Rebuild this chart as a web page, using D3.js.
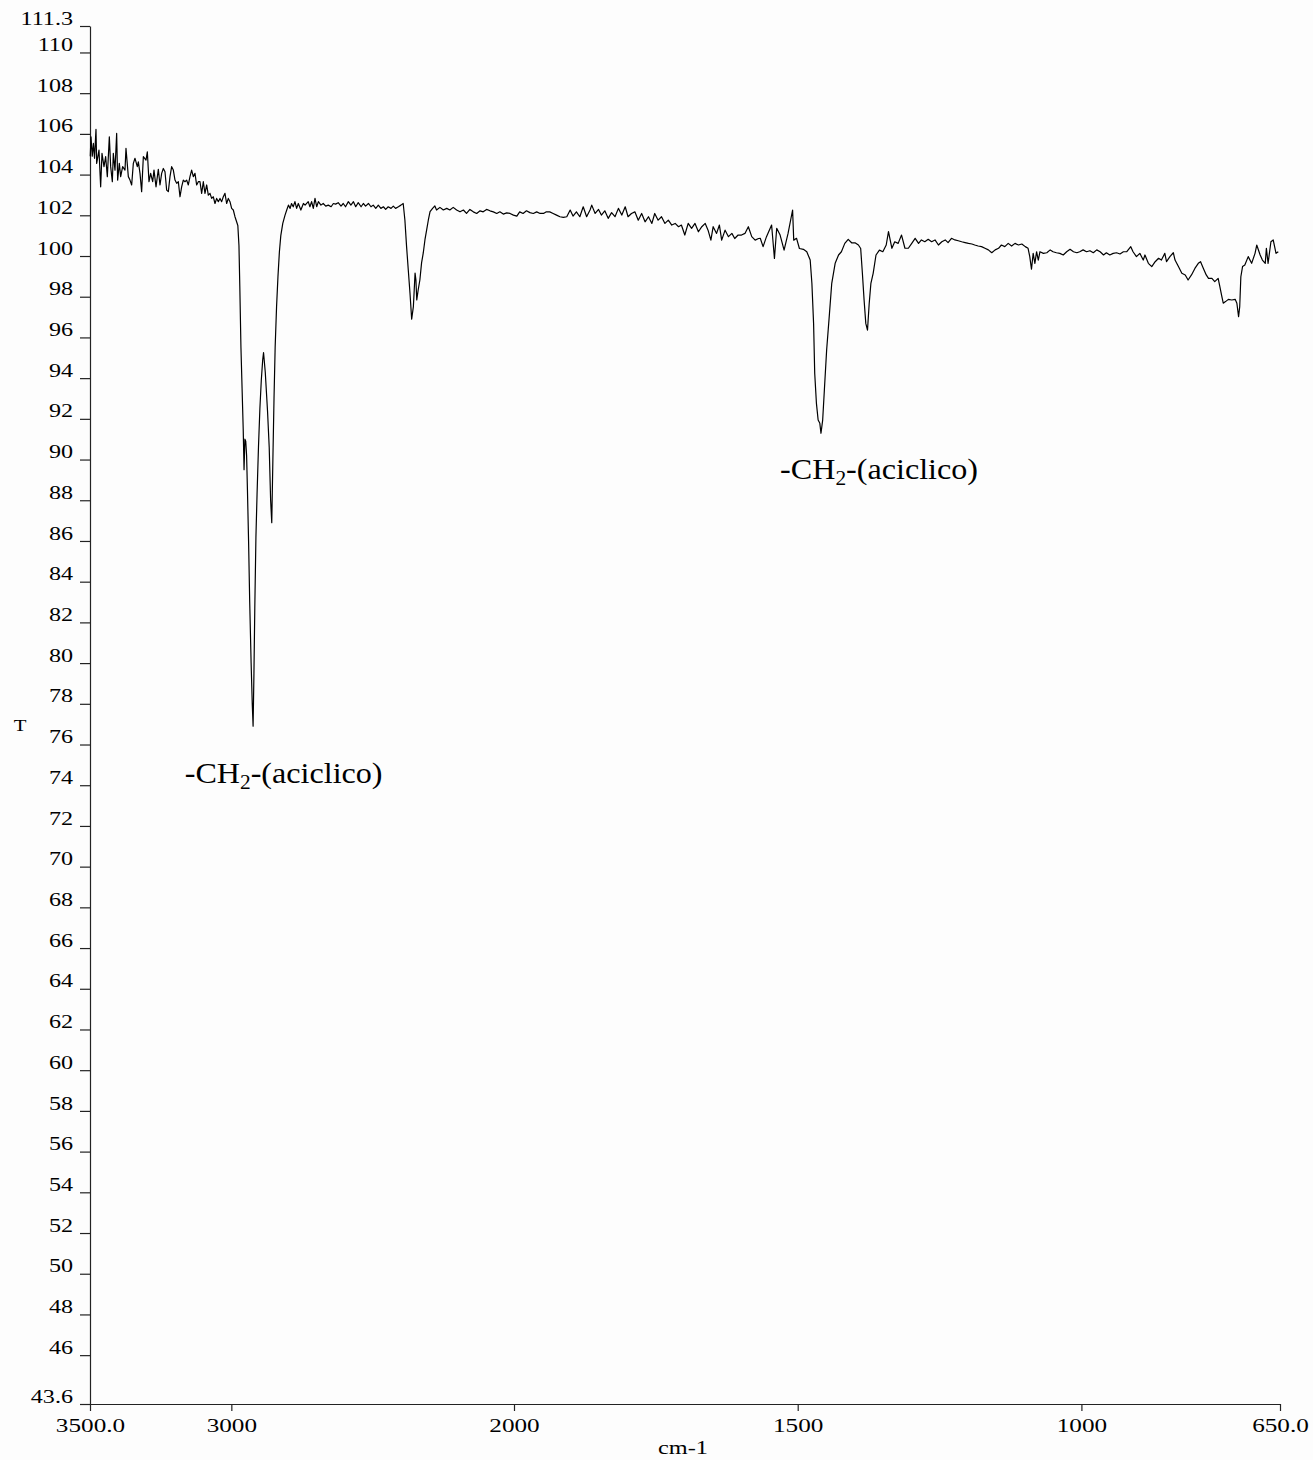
<!DOCTYPE html>
<html>
<head>
<meta charset="utf-8">
<script src="https://cdn.jsdelivr.net/npm/d3@7"></script>
<style>
    body { margin: 0; background: #fdfdfd; }
    svg { display: block; }
    text { font-family: "Liberation Serif", "Times New Roman", serif; fill: #000; }
</style>
</head>
<body>
<svg id="chart" width="1313" height="1460"></svg>
<script>
// spectrum (cm-1 / %T)
const wavenumber = [
    3499, 3496.5, 3492, 3488, 3484, 3478.8, 3476.4, 3468.2, 3462.3, 3457.6, 3450.5, 3444.6, 3438.7, 3431.6, 3426.9, 3421,
    3417.5, 3411.6, 3405.7, 3402.2, 3396.3, 3391.5, 3384.5, 3376.2, 3372.7, 3364.4, 3358.5, 3352.6, 3346.7, 3340.8, 3332.6,
    3329, 3323.1, 3317.3, 3311.3, 3301.9, 3297.2, 3291.3, 3285.4, 3278.3, 3273.6, 3266.5, 3258.3, 3252.4, 3246.5, 3240.6,
    3234.7, 3228.8, 3222.9, 3217, 3211.1, 3205.2, 3199.3, 3193.4, 3187.5, 3181.6, 3175.8, 3169.9, 3164, 3158, 3152.2, 3146.3,
    3140.4, 3134.5, 3128.6, 3122.7, 3116.8, 3110.9, 3105, 3099.1, 3093.2, 3087.3, 3081.4, 3075.5, 3069.6, 3063.7, 3057.8,
    3051.9, 3046, 3040.1, 3034.2, 3028.4, 3022.5, 3016.6, 3010.7, 3004.8, 2998.9, 2993, 2987.1,
    2977, 2973, 2970, 2966, 2962, 2958, 2955, 2952, 2949, 2946, 2943, 2939, 2935, 2930, 2926, 2923, 2920, 2917, 2913, 2909,
    2904, 2899, 2894, 2889, 2886, 2880, 2872, 2866, 2861, 2857, 2853, 2849, 2845, 2840, 2835, 2830, 2825, 2818,
    2810, 2804, 2798, 2792, 2787, 2781, 2775, 2769, 2763, 2754, 2745, 2739, 2728, 2722, 2716, 2710, 2704, 2698, 2692, 2683,
    2675, 2666, 2657, 2647, 2639, 2631, 2622, 2612, 2604, 2596, 2586, 2577, 2568, 2560, 2551, 2541, 2533, 2525, 2515, 2506,
    2498, 2489, 2480, 2471, 2462, 2454, 2445, 2435, 2427, 2419, 2409, 2400, 2392,
    2386, 2380, 2374, 2368, 2362, 2356, 2353, 2350, 2347, 2344, 2339, 2333, 2327, 2321, 2315, 2309, 2303, 2297, 2288, 2280,
    2274, 2262, 2250, 2238, 2227, 2215, 2203, 2191, 2179, 2168, 2156, 2144, 2132, 2120, 2109, 2097, 2085, 2073, 2061, 2050,
    2038, 2026, 2014, 2002, 1995, 1990, 1984, 1978, 1972, 1966, 1960, 1954, 1948, 1943, 1937, 1931, 1925, 1919, 1913, 1907,
    1901, 1896, 1890, 1884, 1878, 1872, 1866, 1863, 1857, 1851, 1846, 1840, 1834, 1828, 1822, 1816, 1810, 1804, 1799, 1793,
    1787, 1781, 1775, 1769, 1763, 1757, 1752, 1746, 1740, 1734, 1728, 1722, 1716, 1710, 1705, 1699, 1693, 1687, 1681, 1675,
    1669, 1663, 1658, 1653, 1649, 1643, 1638, 1634, 1628, 1622, 1616, 1611, 1605, 1599, 1593, 1587, 1581, 1575, 1569,
    1566, 1561, 1555, 1546, 1541, 1537, 1531, 1524, 1517, 1509, 1507, 1502, 1497, 1490, 1484, 1478, 1475, 1472, 1470, 1467,
    1464, 1461, 1459, 1456, 1453, 1449, 1444, 1440, 1434, 1428, 1423, 1417, 1411, 1405, 1399, 1393, 1389, 1386, 1383, 1380,
    1377, 1374, 1371, 1367, 1362, 1356, 1350, 1344, 1340,
    1334, 1329, 1323, 1317, 1311, 1305, 1299, 1293, 1287, 1282, 1276, 1270, 1264, 1258, 1252, 1246, 1240, 1235, 1229, 1223,
    1217, 1211, 1205, 1199, 1193, 1188, 1182, 1176, 1170, 1164, 1158, 1152, 1146, 1141, 1135, 1129, 1123, 1117, 1111, 1105,
    1099, 1094, 1091, 1088, 1085, 1082, 1079, 1076, 1073, 1067, 1061, 1055, 1050, 1044, 1038, 1032, 1026, 1020, 1014, 1008,
    1003, 997, 991, 985, 979, 973, 967, 961, 956, 950, 944, 938, 932, 926, 920, 913, 909, 903, 897, 891,
    888, 882, 876, 870, 864, 859, 853, 850, 844, 838, 835, 829, 823, 817, 812, 806, 800, 794, 790, 785,
    780, 776, 770, 765, 759, 756, 753, 750, 746, 741, 735, 729, 726, 723, 721, 719, 716, 712, 706, 700,
    694, 691, 685, 681, 676, 674, 671, 666, 662, 657, 653
];

const transmittance = [
    104.9, 105.86, 104.9, 105.53, 104.8, 106.22, 104.55, 105.2, 103.4, 105.04, 104.39, 104.88, 103.9, 105.86, 104.39, 103.65,
    105.04, 104.22, 106.02, 103.73, 104.55, 103.9, 104.39, 104.22, 105.29, 103.9, 103.73, 103.49, 104.55, 104.8, 104.39,
    104.63, 104.06, 103.16, 104.88, 104.71, 105.12, 103.65, 104.06, 103.65, 104.22, 103.4, 104.26, 103.49, 104.06, 104.3,
    104.14, 103.24, 103.16, 103.9, 104.39, 104.22, 103.73, 103.57, 103.65, 102.91, 103.4, 103.73, 103.65, 103.73, 103.49, 103.9,
    104.22, 103.9, 104.06, 103.49, 103.65, 103.65, 103.08, 103.65, 103.08, 103.49, 102.99, 103.08, 102.83, 102.91, 102.58,
    102.83, 102.67, 102.83, 102.67, 102.91, 103.08, 102.58, 102.83, 102.67, 102.34, 102.26, 101.93,
    101.5, 100.5, 98.5, 95.5, 93.5, 91.5, 89.5, 91.0, 90.9, 90.2, 88.5, 86.0, 83.0, 80.0, 78.0, 76.9, 79.5, 82.7, 86.2, 88.3,
    90.6, 92.5, 93.9, 94.9, 95.25, 94.3, 92.4, 90.6, 88.0, 86.9, 90.0, 93.0, 95.5, 97.5, 99.0, 100.2, 101.0, 101.6,
    102.01, 102.26, 102.5, 102.34, 102.58, 102.42, 102.67, 102.34, 102.58, 102.26, 102.58, 102.5, 102.67, 102.42, 102.67, 102.34, 102.83, 102.42, 102.67, 102.5,
    102.58, 102.45, 102.5, 102.42, 102.58, 102.55, 102.62, 102.45, 102.58, 102.42, 102.67, 102.5, 102.67, 102.42, 102.62, 102.42, 102.58, 102.45, 102.58, 102.42,
    102.5, 102.34, 102.5, 102.34, 102.42, 102.29, 102.42, 102.34, 102.45, 102.34, 102.42, 102.5, 102.58,
    101.77, 100.46, 99.31, 98.18, 96.9, 97.51, 98.33, 99.16, 98.82, 97.84, 98.33, 98.82, 99.66, 100.15, 100.8, 101.28, 101.77, 102.18, 102.34, 102.46,
    102.26, 102.39, 102.26, 102.34, 102.26, 102.39, 102.26, 102.17, 102.26, 102.09, 102.29, 102.17, 102.09, 102.22, 102.17, 102.29, 102.22, 102.17, 102.09, 102.17,
    102.06, 102.12, 102.09, 102.01, 101.96, 102.17, 102.09, 102.22, 102.13, 102.09, 102.17, 102.09, 102.09, 102.17, 102.17, 102.09, 102.01, 101.93, 101.9, 101.93,
    102.26, 101.96, 102.17, 101.93, 102.42, 101.93, 102.26, 102.5, 102.09, 102.29, 102.01, 102.22, 101.85, 102.13, 101.93, 102.34, 102.01, 102.42, 101.93, 102.09,
    102.17, 101.76, 102.09, 101.68, 101.93, 101.6, 102.09, 101.76, 101.93, 101.6, 101.76, 101.52, 101.6, 101.44, 101.52, 101.03, 101.6, 101.36, 101.6, 101.19,
    101.44, 101.6, 101.27, 100.78, 101.44, 101.11, 101.52, 100.78, 101.27, 100.95, 101.11, 100.86, 101.03, 101.03, 101.11, 101.44, 100.95, 100.78, 100.86,
    100.87, 100.46, 100.95, 101.52, 99.88, 101.36, 101.03, 100.29, 101.11, 102.26, 100.78, 100.87, 100.37, 100.33, 100.21, 99.8, 98.66, 96.69, 94.23, 92.76,
    91.94, 91.78, 91.29, 91.94, 93.42, 95.38, 97.18, 98.66, 99.64, 100.05, 100.21, 100.62, 100.82, 100.65, 100.65, 100.54, 100.37, 99.15, 97.84, 96.69,
    96.36, 97.67, 98.66, 99.15, 100.05, 100.29, 100.21, 100.54, 101.2,
    100.38, 100.7, 100.62, 101.03, 100.38, 100.38, 100.62, 100.87, 100.62, 100.79, 100.7, 100.82, 100.7, 100.79, 100.54, 100.7, 100.79, 100.66, 100.87, 100.79,
    100.75, 100.7, 100.66, 100.62, 100.59, 100.54, 100.49, 100.46, 100.38, 100.3, 100.16, 100.3, 100.38, 100.54, 100.46, 100.62, 100.49, 100.62, 100.54, 100.59,
    100.46, 100.38, 99.97, 99.35, 100.13, 99.64, 100.21, 99.8, 100.21, 100.13, 100.16, 100.3, 100.21, 100.16, 100.13, 100.05, 100.21, 100.33, 100.21, 100.16,
    100.21, 100.3, 100.21, 100.26, 100.16, 100.3, 100.21, 100.05, 100.16, 100.05, 100.13, 100.16, 100.1, 100.21, 100.21, 100.46, 100.21, 99.97, 100.13, 99.8,
    100.05, 99.64, 99.48, 99.72, 99.89, 99.8, 100.13, 99.72, 99.97, 100.16, 99.8, 99.48, 99.15, 99.07, 98.82, 99.07, 99.39, 99.64, 99.72, 99.39,
    99.07, 98.9, 98.9, 98.74, 98.9, 98.49, 98.08, 97.68, 97.76, 97.87, 97.84, 97.87, 97.68, 97.02, 97.51, 98.98, 99.48, 99.56, 99.97, 99.64,
    100.13, 100.54, 100.05, 99.8, 99.64, 100.38, 99.64, 100.7, 100.79, 100.13, 100.21
];

const xTicks = [3500, 3000, 2000, 1500, 1000, 650];
const xTickLabels = ['3500.0', '3000', '2000', '1500', '1000', '650.0'];
const yTicks = [43.6, 46, 48, 50, 52, 54, 56, 58, 60, 62, 64, 66, 68, 70, 72, 74, 76, 78, 80, 82, 84, 86, 88, 90,
    92, 94, 96, 98, 100, 102, 104, 106, 108, 110, 111.3];

const noteWn = [3165, 1531];
const noteT = [74.1, 89.05];

const svg = d3.select('#chart');
const width = 1313, height = 1460;

// the original export has its lettering stretched sideways
function widen(sel, factor) {
    sel.each(function () {
        const len = this.getComputedTextLength();
        d3.select(this).attr('textLength', len * factor).attr('lengthAdjust', 'spacingAndGlyphs');
    });
}

svg.append('rect').attr('width', width).attr('height', height).attr('fill', '#fdfdfd');

// the instrument switches scale at 2000 cm-1
const x = d3.scaleLinear().domain([3500, 2000, 650]).range([90, 514, 1280]);
const y = d3.scaleLinear().domain([43.6, 111.3]).range([1404, 26]);

const yAxis = svg.append('g')
    .attr('transform', `translate(${x(3500)},0)`)
    .call(d3.axisLeft(y).tickValues(yTicks).tickSize(10).tickSizeOuter(0).tickPadding(7)
        .tickFormat(d => String(d)));

const xAxis = svg.append('g')
    .attr('transform', `translate(0,${y(43.6)})`)
    .call(d3.axisBottom(x).tickValues(xTicks).tickSize(7).tickSizeOuter(0).tickPadding(8)
        .tickFormat((d, i) => xTickLabels[i]));

[xAxis, yAxis].forEach(g => {
    g.selectAll('path, line').attr('stroke', '#222').attr('stroke-width', 1.2);
    g.selectAll('text').attr('fill', '#000');
});

yAxis.selectAll('text').attr('font-size', 19).attr('dy', '-0.1em');
widen(yAxis.selectAll('text'), 1.27);
xAxis.selectAll('text').attr('font-size', 18).attr('dy', '0.72em');
widen(xAxis.selectAll('text'), 1.4);

svg.append('text')
    .attr('x', 683).attr('y', 1454)
    .attr('text-anchor', 'middle')
    .attr('font-size', 18)
    .text('cm-1')
    .call(widen, 1.35);

svg.append('text')
    .attr('x', 20).attr('y', 731)
    .attr('text-anchor', 'middle')
    .attr('font-size', 16)
    .text('T')
    .call(widen, 1.3);

const points = wavenumber.map((w, i) => [w, transmittance[i]]);

const line = d3.line()
    .x(d => x(d[0]))
    .y(d => y(d[1]));

svg.append('path')
    .datum(points)
    .attr('fill', 'none')
    .attr('stroke', '#000')
    .attr('stroke-width', 1.2)
    .attr('stroke-linejoin', 'round')
    .attr('d', line);

noteWn.forEach((w, i) => {
    const t = svg.append('text')
        .attr('x', x(w)).attr('y', y(noteT[i]))
        .attr('font-size', 30);
    t.append('tspan').text('-CH');
    t.append('tspan').attr('font-size', 20).attr('dy', 6).text('2');
    t.append('tspan').attr('dy', -6).text('-(aciclico)');
    widen(t, 1.07);
});
</script>
</body>
</html>
